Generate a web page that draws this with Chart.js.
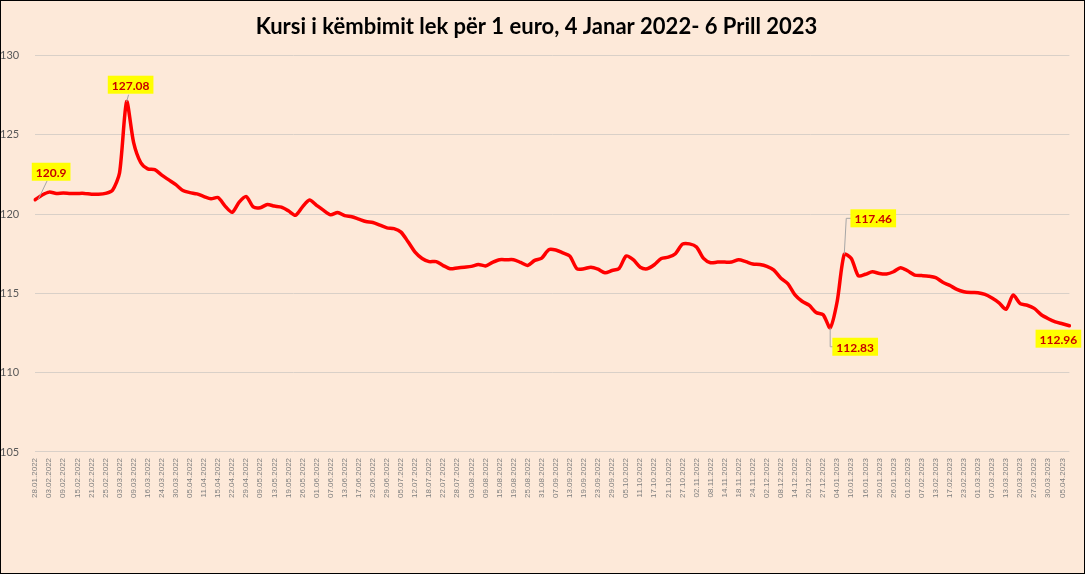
<!DOCTYPE html>
<html>
<head>
<meta charset="utf-8">
<title>Kursi i këmbimit lek për 1 euro</title>
<script src="https://cdn.jsdelivr.net/npm/chart.js@4.4.1/dist/chart.umd.min.js"></script>
<style>
    html, body { margin: 0; padding: 0; background: #fff; }
    canvas { display: block; }
</style>
</head>
<body>
<canvas id="kursiChart" width="1085" height="574"></canvas>
<script>
// one tick label every 4 working days (as on the original axis)
const tickDates = [
    "28.01.2022", "03.02.2022", "09.02.2022", "15.02.2022", "21.02.2022", "25.02.2022", "03.03.2022", "09.03.2022",
    "16.03.2022", "24.03.2022", "30.03.2022", "05.04.2022", "11.04.2022", "15.04.2022", "22.04.2022", "29.04.2022",
    "09.05.2022", "13.05.2022", "19.05.2022", "26.05.2022", "01.06.2022", "07.06.2022", "13.06.2022", "17.06.2022",
    "23.06.2022", "29.06.2022", "05.07.2022", "12.07.2022", "18.07.2022", "22.07.2022", "28.07.2022", "03.08.2022",
    "09.08.2022", "15.08.2022", "19.08.2022", "25.08.2022", "31.08.2022", "07.09.2022", "13.09.2022", "19.09.2022",
    "23.09.2022", "29.09.2022", "05.10.2022", "11.10.2022", "17.10.2022", "21.10.2022", "27.10.2022", "02.11.2022",
    "08.11.2022", "14.11.2022", "18.11.2022", "24.11.2022", "02.12.2022", "08.12.2022", "14.12.2022", "20.12.2022",
    "27.12.2022", "04.01.2023", "10.01.2023", "16.01.2023", "20.01.2023", "26.01.2023", "01.02.2023", "07.02.2023",
    "13.02.2023", "17.02.2023", "23.02.2023", "01.03.2023", "07.03.2023", "13.03.2023", "20.03.2023", "27.03.2023",
    "30.03.2023", "05.04.2023"
];

// lek per euro, two readings per tick interval
const euroRate = [
    120.9, 121.2, 121.38, 121.3, 121.33, 121.3, 121.3, 121.3, 121.25, 121.25,
    121.3, 121.5, 122.6, 127.08, 124.5, 123.25, 122.85, 122.8, 122.45, 122.15,
    121.85, 121.48, 121.35, 121.27, 121.1, 120.96, 121.04, 120.5, 120.11, 120.75,
    121.1, 120.45, 120.4, 120.6, 120.5, 120.43, 120.2, 119.92, 120.45, 120.88,
    120.55, 120.23, 119.95, 120.1, 119.9, 119.83, 119.68, 119.53, 119.47, 119.3,
    119.13, 119.08, 118.86, 118.25, 117.6, 117.2, 117.0, 117.0, 116.75, 116.55,
    116.6, 116.65, 116.7, 116.82, 116.73, 116.95, 117.12, 117.12, 117.12, 116.95,
    116.76, 117.08, 117.22, 117.75, 117.73, 117.55, 117.35, 116.55, 116.55, 116.65,
    116.52, 116.3, 116.44, 116.57, 117.35, 117.12, 116.65, 116.55, 116.8, 117.2,
    117.28, 117.5, 118.1, 118.12, 117.92, 117.2, 116.93, 116.97, 116.97, 116.97,
    117.12, 117.0, 116.85, 116.82, 116.7, 116.46, 115.95, 115.6, 114.9, 114.5,
    114.25, 113.79, 113.65, 112.83, 114.5, 117.46, 117.2, 116.1, 116.2, 116.36,
    116.25, 116.22, 116.36, 116.62, 116.42, 116.15, 116.12, 116.08, 115.99, 115.7,
    115.5, 115.25, 115.1, 115.05, 115.04, 114.93, 114.7, 114.4, 114.0, 114.89,
    114.35, 114.25, 114.05, 113.65, 113.4, 113.2, 113.08, 112.96
];

const yTicks = [105, 110, 115, 120, 125, 130];

// points that carry a yellow value label
const calloutIdx = [0, 13, 113, 115, 147];

const chartTitle = "Kursi i këmbimit lek për 1 euro, 4 Janar 2022- 6 Prill 2023";

// label placement relative to its point, and leader line path
const calloutStyle = {
    0:   { dx: 16, dy: -28, leader: [[3, 0], [12, -19]] },
    13:  { dx: 4,  dy: -17, leader: [[0, 0], [2, -7]] },
    113: { dx: 25, dy: 19,  leader: [[0, 0], [0, 19], [4, 19]] },
    115: { dx: 29, dy: -36, leader: [[0, 0], [2, -36], [8, -36]] },
    147: { dx: -11, dy: 13, leader: [] }
};

const labels = euroRate.map((v, i) => (i % 2 === 0 ? (tickDates[i / 2] || "") : ""));

const backgroundPlugin = {
    id: "bg",
    beforeDraw(chart) {
        const c = chart.ctx;
        c.save();
        c.fillStyle = "#FDE9D9";
        c.fillRect(0, 0, chart.width, chart.height);
        c.strokeStyle = "#000";
        c.lineWidth = 1;
        c.strokeRect(0.5, 0.5, chart.width - 1, chart.height - 1);
        c.restore();
    }
};

const calloutPlugin = {
    id: "callouts",
    afterDatasetsDraw(chart) {
        const c = chart.ctx;
        const meta = chart.getDatasetMeta(0);
        c.save();
        c.font = "bold 12px Lato";
        c.textAlign = "center";
        c.textBaseline = "middle";
        calloutIdx.forEach(idx => {
            const pt = meta.data[idx];
            const st = calloutStyle[idx];
            const text = String(euroRate[idx]);
            if (st.leader.length) {
                c.strokeStyle = "#A6A6A6";
                c.lineWidth = 1;
                c.beginPath();
                st.leader.forEach((p, k) => {
                    const x = pt.x + p[0], y = pt.y + p[1];
                    k === 0 ? c.moveTo(x, y) : c.lineTo(x, y);
                });
                c.stroke();
            }
            const w = c.measureText(text).width + 8;
            const h = 18;
            const cx = pt.x + st.dx, cy = pt.y + st.dy;
            c.fillStyle = "#FFFF00";
            c.fillRect(cx - w / 2, cy - h / 2, w, h);
            c.fillStyle = "#C80000";
            c.fillText(text, cx, cy + 1);
        });
        c.restore();
    }
};

const ctx = document.getElementById("kursiChart").getContext("2d");
const kursiChart = new Chart(ctx, {
    type: "line",
    data: {
        labels,
        datasets: [{
            label: "Lek/Euro",
            data: euroRate,
            borderColor: "#FF0000",
            borderWidth: 3.5,
            pointRadius: 0,
            tension: 0.25,
            borderJoinStyle: "round",
            borderCapStyle: "round"
        }]
    },
    options: {
        responsive: false,
        animation: false,
        devicePixelRatio: 1,
        layout: { padding: { left: 0, right: 12, top: 0, bottom: 70 } },
        plugins: {
            legend: { display: false },
            tooltip: { enabled: false },
            title: {
                display: true,
                text: chartTitle,
                color: "#000",
                font: { family: "Lato", size: 22, weight: "bold" },
                padding: { top: 14, bottom: 15 }
            }
        },
        scales: {
            x: {
                offset: false,
                grid: { display: false, drawTicks: false },
                border: { display: false },
                ticks: {
                    autoSkip: false,
                    maxRotation: 90,
                    minRotation: 90,
                    padding: 6,
                    color: "#7F7F7F",
                    font: { family: "Liberation Sans", size: 8 }
                }
            },
            y: {
                min: yTicks[0],
                max: yTicks[yTicks.length - 1],
                afterBuildTicks(scale) { scale.ticks = yTicks.map(v => ({ value: v })); },
                grid: { color: "#D9D0C8", drawTicks: false },
                border: { display: false },
                ticks: {
                    padding: 8,
                    crossAlign: "far",
                    color: "#595959",
                    font: { family: "Lato", size: 11 }
                }
            }
        }
    },
    plugins: [backgroundPlugin, calloutPlugin]
});
</script>
</body>
</html>
